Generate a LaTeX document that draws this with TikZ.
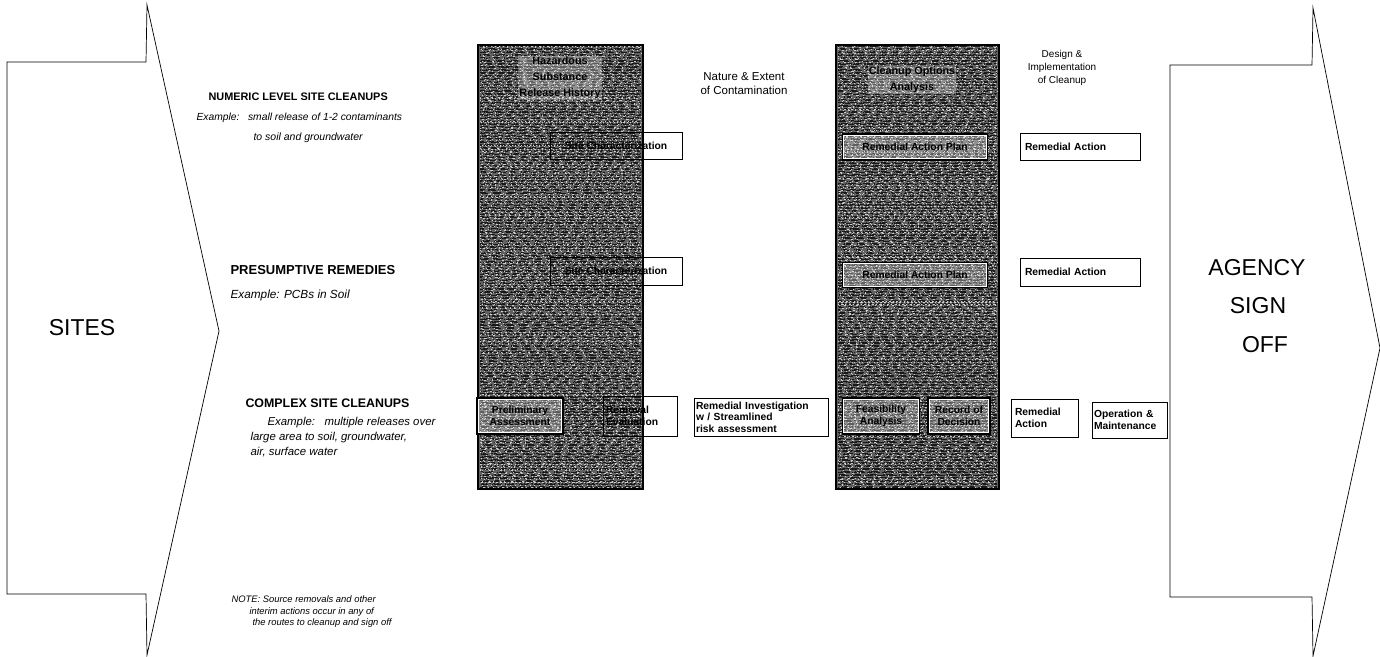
\documentclass[tikz,border=0pt]{standalone}
\usepackage{fontspec}
\setmainfont{Liberation Sans}
\begin{document}
\begin{tikzpicture}[x=1pt,y=-1pt,
  bigarrow/.style={draw=black,line width=0.7pt,fill=white},
  stepbox/.style={draw=black,line width=0.9pt,font=\bfseries\fontsize{10.3}{12}\selectfont,inner sep=2pt},
  incol/.style={stepbox,line width=1.5pt,fill=white,fill opacity=0.3,text opacity=1,
    append after command={\pgfextra{\draw[white,line width=0.8pt] ([shift={(2pt,-2pt)}]\tikzlastnode.north west) rectangle ([shift={(-2pt,2pt)}]\tikzlastnode.south east);}}},
  colhdr/.style={font=\bfseries\fontsize{10.8}{16}\selectfont,align=center,fill=white,fill opacity=0.3,text opacity=1,inner sep=1pt},
  hdr/.style={font=\fontsize{11.5}{14}\selectfont,align=center},
  big/.style={font=\fontsize{23}{26}\selectfont}
]
\useasboundingbox (0,0) rectangle (1380,656);
% big arrows
\draw[bigarrow] (7,62) -- (146,62) -- (147,5) -- (219,331) -- (147,655) -- (146,594) -- (7,594) -- cycle;
\draw[bigarrow] (1170,65) -- (1312,65) -- (1313,8) -- (1380,348) -- (1313,656) -- (1312,597) -- (1170,597) -- cycle;
\node[big] (sites) at (82,328) {SITES};
\node[big] (agency) at (1257,268) {AGENCY};
\node[big] (sign) at (1258,306) {SIGN};
\node[big] (off) at (1265,345) {OFF};

% shaded columns with streaky noise
\pgfmathsetseed{7}
\foreach \xa/\xb in {478/643,836/999}{
  \fill[black!62] (\xa,45) rectangle (\xb,489);
  \foreach \yy in {46,47.5,...,488}{
    \pgfmathsetmacro\da{0.4+2.2*rnd}
    \pgfmathsetmacro\db{1.5+6*rnd}
    \pgfmathsetmacro\dc{40*rnd}
    \pgfmathsetmacro\de{0.3+1.2*rnd}
    \pgfmathsetmacro\df{2+5*rnd}
    \pgfmathsetmacro\dg{40*rnd}
    \draw[white!80!black,line width=0.8pt,dash pattern=on \da pt off \db pt on \de pt off \df pt,dash phase=\dc pt] (\xa+2,\yy) -- (\xb-2,\yy);
    \draw[black!90,line width=0.6pt,dash pattern=on \de pt off \da pt on \db pt off \df pt,dash phase=\dg pt] (\xa+2,\yy+0.7) -- (\xb-2,\yy+0.7);
  }
  \draw[black,line width=1.6pt] (\xa,45) rectangle (\xb,489);
}

\node[colhdr] (hsrh) at (560,78) {Hazardous\\Substance\\Release History};
\node[colhdr] (coa) at (912,80) {Cleanup Options\\Analysis};
\node[hdr] (nec) at (744,84) {Nature \& Extent\\of Contamination};
\node[hdr,font=\fontsize{10}{13}\selectfont] (dic) at (1062,68) {Design \&\\Implementation\\of Cleanup};

% left captions
\node[anchor=west,font=\bfseries\fontsize{10.9}{12}\selectfont] (num) at (205,97) {NUMERIC LEVEL SITE CLEANUPS};
\node[anchor=west,font=\itshape\fontsize{10.3}{12}\selectfont] (numex) at (193,118) {Example:\ \ \ small release of 1-2 contaminants};
\node[anchor=west,font=\itshape\fontsize{10.5}{12}\selectfont] (numex2) at (250,138) {to soil and groundwater};
\node[anchor=west,font=\bfseries\fontsize{13}{14}\selectfont] (pres) at (227,270) {PRESUMPTIVE REMEDIES};
\node[anchor=west,font=\itshape\fontsize{11.8}{13}\selectfont] (presex) at (227,295) {Example: PCBs in Soil};
\node[anchor=west,font=\bfseries\fontsize{12.4}{14}\selectfont] (comp) at (242,403) {COMPLEX SITE CLEANUPS};
\node[anchor=west,align=left,font=\itshape\fontsize{11.4}{15}\selectfont] (compex) at (247,437) {\hspace*{17pt}Example:\ \ \ multiple releases over\\large area to soil, groundwater,\\air, surface water};
\node[anchor=west,align=left,font=\itshape\fontsize{9.4}{11.5}\selectfont] (note) at (228,612) {NOTE: Source removals and other\\\hspace*{18pt}interim actions occur in any of\\\hspace*{21pt}the routes to cleanup and sign off};

% row 1
\node[stepbox,minimum width=132pt,minimum height=27pt] (sc1) at (616,146) {Site Characterization};
\node[incol,minimum width=145pt,minimum height=26pt] (rap1) at (915,147) {Remedial Action Plan};
\node[stepbox,minimum width=120pt,minimum height=27pt,align=left,text width=110pt] (ra1) at (1080,147) {Remedial Action};
% row 2
\node[stepbox,minimum width=132pt,minimum height=28pt] (sc2) at (616,271) {Site Characterization};
\node[incol,minimum width=145pt,minimum height=25pt] (rap2) at (915,275) {Remedial Action Plan};
\node[stepbox,minimum width=120pt,minimum height=28pt,align=left,text width=110pt] (ra2) at (1080,272) {Remedial Action};
% row 3
\node[incol,minimum width=86pt,minimum height=36pt,align=center] (pa) at (520,416) {Preliminary\\Assessment};
\node[stepbox,minimum width=74pt,minimum height=40pt,align=left,text width=68pt,inner sep=1pt] (re) at (640,416) {Removal\\Evaluation};
\node[stepbox,minimum width=134pt,minimum height=38pt,align=left,text width=130pt,inner sep=1pt,font=\bfseries\fontsize{10.3}{11.5}\selectfont] (ri) at (761,417) {Remedial Investigation\\w / Streamlined\\risk assessment};
\node[incol,minimum width=77pt,minimum height=36pt,align=center] (fa) at (881,416) {Feasibility\\Analysis};
\node[incol,minimum width=62pt,minimum height=36pt,align=center] (rod) at (959,416) {Record of\\Decision};
\node[stepbox,minimum width=67pt,minimum height=38pt,align=left,text width=60pt] (ra3) at (1045,418) {Remedial\\Action};
\node[stepbox,minimum width=75pt,minimum height=36pt,align=left,text width=72pt,inner sep=1pt] (om) at (1130,420) {Operation \&\\Maintenance};
\end{tikzpicture}
\end{document}
